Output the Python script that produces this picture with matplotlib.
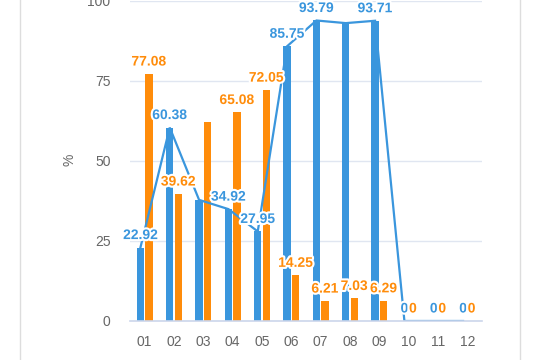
import matplotlib
matplotlib.use("Agg")
import matplotlib.pyplot as plt
import matplotlib.patheffects as pe
import numpy as np

plt.rcParams['font.family'] = ['Liberation Sans', 'DejaVu Sans']

months = ['01', '02', '03', '04', '05', '06', '07', '08', '09', '10', '11', '12']
blue_vals = [22.92, 60.38, 37.8, 34.92, 27.95, 85.75, 93.79, 92.97, 93.71, 0, 0, 0]
orange_vals = [77.08, 39.62, 62.2, 65.08, 72.05, 14.25, 6.21, 7.03, 6.29, 0, 0, 0]
blue_labels = ['22.92', '60.38', None, '34.92', '27.95', '85.75', '93.79', None, '93.71', '0', '0', '0']
orange_labels = ['77.08', '39.62', None, '65.08', '72.05', '14.25', '6.21', '7.03', '6.29', '0', '0', '0']
yticks = [0, 25, 50, 75, 100]

BLUE = '#3a96dd'
ORANGE = '#ff8c0a'

fig = plt.figure(figsize=(5.4, 3.6), dpi=100)
ax = fig.add_axes([130/540, 39/360, 352/540, 320.4/360])

x = np.arange(len(months))
off = 0.145
w = 0.255
ax.bar(x - off, blue_vals, width=w, color=BLUE, zorder=2)
ax.bar(x + off, orange_vals, width=w, color=ORANGE, zorder=2)
ax.plot(x - off, blue_vals, color=BLUE, lw=1.6, zorder=3, solid_joinstyle='miter')

stroke = [pe.withStroke(linewidth=3, foreground='white')]
for xi, v, lab in zip(x - off, blue_vals, blue_labels):
    if lab is not None:
        ax.annotate(lab, (xi, v), xytext=(0, 9), textcoords='offset points',
                    ha='center', va='center', color=BLUE, fontsize=10,
                    fontweight='bold', zorder=5, path_effects=stroke)
for xi, v, lab in zip(x + off, orange_vals, orange_labels):
    if lab is not None:
        ax.annotate(lab, (xi, v), xytext=(0, 9), textcoords='offset points',
                    ha='center', va='center', color=ORANGE, fontsize=10,
                    fontweight='bold', zorder=5, path_effects=stroke)

ax.set_xlim(-0.5, len(months) - 0.5)
ax.set_ylim(0, 100)
ax.set_yticks(yticks)
ax.set_xticks(x)
ax.set_xticklabels(months)
ax.tick_params(axis='both', length=0, colors='#666666', labelsize=10)
ax.tick_params(axis='y', pad=14)
ax.tick_params(axis='x', pad=10)
ax.grid(axis='y', color='#e0e6f1', lw=1, zorder=0)
for s in ['top', 'right', 'left']:
    ax.spines[s].set_visible(False)
ax.spines['bottom'].set_color('#ccd6eb')
ax.spines['bottom'].set_linewidth(1.2)
ax.spines['bottom'].set_zorder(4)

fig.text(70/540, 1 - 160/360, '%', rotation=90, ha='center', va='center',
         color='#666666', fontsize=10)

fig.add_artist(plt.Line2D([20/540, 20/540], [0, 1], transform=fig.transFigure, color='#dddddd', lw=1))
fig.add_artist(plt.Line2D([520/540, 520/540], [0, 1], transform=fig.transFigure, color='#dddddd', lw=1))

fig.savefig('out.png', dpi=100)
